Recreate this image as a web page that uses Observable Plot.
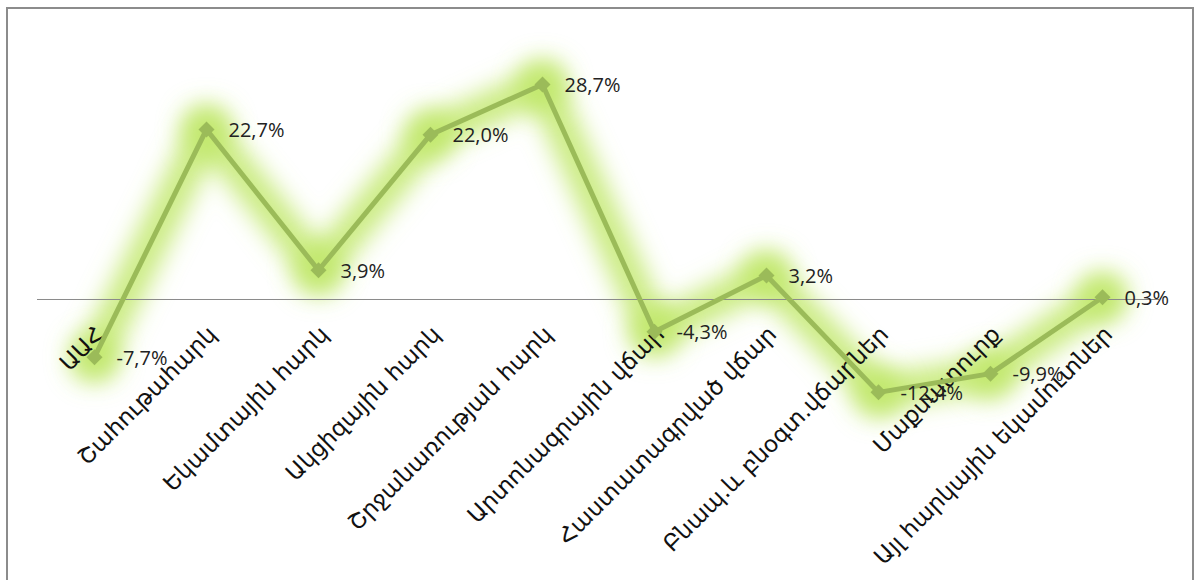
<!DOCTYPE html>
<html>
<head>
<meta charset="utf-8">
<script src="https://cdn.jsdelivr.net/npm/d3@7"></script>
<script src="https://cdn.jsdelivr.net/npm/@observablehq/plot@0.6"></script>
<style>
  html, body { margin: 0; padding: 0; background: #fff; }
  #wrap { position: relative; width: 1200px; height: 580px; overflow: hidden; }
  #border { position: absolute; left: 6px; top: 7px; width: 1188px; height: 600px; border: 2px solid #8c8c8c; box-sizing: border-box; pointer-events: none; }
  svg { position: absolute; left: 0; top: 0; }
</style>
</head>
<body>
<div id="wrap"><div id="border"></div></div>
<script>
const categories = [
  "ԱԱՀ",
  "Շահութահարկ",
  "Եկամտային հարկ",
  "Ակցիզային հարկ",
  "Շրջանառության հարկ",
  "Արտոնագրային վճար",
  "Հաստատագրված վճար",
  "Բնապ.և բնօգտ.վճարներ",
  "Մաքսատուրք",
  "Այլ հարկային եկամուտներ"
];
const values = [-7.7, 22.7, 3.9, 22.0, 28.7, -4.3, 3.2, -12.4, -9.9, 0.3];

const data = categories.map((c, i) => ({ cat: c, v: values[i] }));
const fmt = v => v.toFixed(1).replace(".", ",") + "%";

const lineColor = "#9bbb59";
const glowColor = "#c0e768";

const chart = Plot.plot({
  width: 1200,
  height: 580,
  marginLeft: 37,
  marginRight: 41,
  marginTop: 0,
  marginBottom: 0,
  style: { fontFamily: "'Open Sans', 'DejaVu Sans', sans-serif", background: "transparent", overflow: "visible" },
  x: { type: "point", domain: categories, padding: 0.5, axis: null },
  y: { domain: [-37.52, 39.92], axis: null },
  marks: [
    Plot.line(data, { x: "cat", y: "v", stroke: glowColor, strokeWidth: 34, strokeOpacity: 0.85, className: "glow" }),
    Plot.dot(data, { x: "cat", y: "v", r: 25, fill: glowColor, fillOpacity: 0.85, className: "glow" }),
    Plot.ruleY([0], { stroke: "#8a8a8a", strokeWidth: 1 }),
    Plot.text(data, {
      x: "cat", y: () => 0, text: "cat", rotate: -45, textAnchor: "end",
      fontSize: 23, fill: "#111", dx: 6, dy: 31,
      fontFamily: "'DejaVu Sans', sans-serif"
    }),
    Plot.line(data, { x: "cat", y: "v", stroke: lineColor, strokeWidth: 5 }),
    Plot.dot(data, { x: "cat", y: "v", symbol: "diamond2", r: 7.2, fill: lineColor, stroke: "none" }),
    Plot.text(data, {
      x: "cat", y: "v", text: d => fmt(d.v), textAnchor: "start",
      dx: 22, dy: 1, fontSize: 20, fill: "#222"
    })
  ]
});

const svg = d3.select(chart);
const defs = svg.insert("defs", ":first-child");
const f = defs.append("filter").attr("id", "glowblur")
  .attr("filterUnits", "userSpaceOnUse")
  .attr("x", 0).attr("y", 0).attr("width", 1200).attr("height", 580);
f.append("feGaussianBlur").attr("stdDeviation", 12);
svg.selectAll("g.glow").attr("filter", "url(#glowblur)");

document.getElementById("wrap").prepend(chart);
</script>
</body>
</html>
